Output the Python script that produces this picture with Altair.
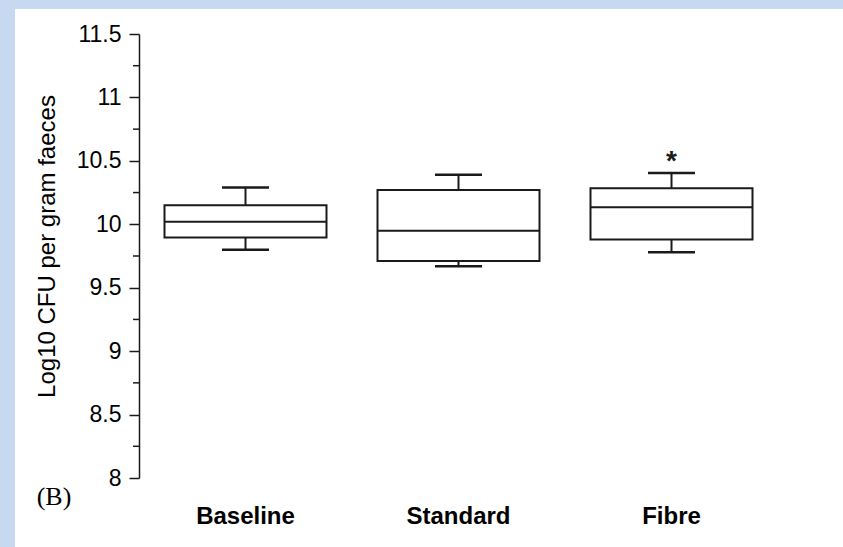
import altair as alt
import pandas as pd

groups = ["Baseline", "Standard", "Fibre"]
whisker_low = [9.80, 9.67, 9.78]
box_low = [9.895, 9.71, 9.88]
medians = [10.02, 9.95, 10.135]
box_high = [10.15, 10.27, 10.285]
whisker_high = [10.29, 10.39, 10.405]
star_groups = ["Fibre"]
star_values = [10.555]
major_ticks = [8, 8.5, 9, 9.5, 10, 10.5, 11, 11.5]
minor_ticks = [8.25, 8.75, 9.25, 9.75, 10.25, 10.75, 11.25]
y_title = "Log10 CFU per gram faeces"
panel_label = "(B)"

df = pd.DataFrame({"group": groups, "lo": whisker_low, "q1": box_low,
                   "med": medians, "q3": box_high, "hi": whisker_high})
stars = pd.DataFrame({"group": star_groups, "v": star_values})
minor = pd.DataFrame({"v": minor_ticks})

W, H = 639, 444
PL, PT = 139, 34
INK = "#1a1a1a"
FONT = "Liberation Sans"

xax = alt.Axis(title=None, domain=False, ticks=False, tickSize=0, labelAngle=0,
               labelFont=FONT, labelFontWeight="bold", labelFontSize=24,
               labelColor="black", labelPadding=26, zindex=1)
xs = alt.X("group:N", sort=groups,
           scale=alt.Scale(domain=groups, paddingInner=0, paddingOuter=0), axis=xax)

yax = alt.Axis(values=major_ticks, tickSize=10, tickColor=INK, tickWidth=1.5,
               domainColor=INK, domainWidth=1.5, grid=False,
               labelExpr="format(datum.value, '~g')", labelFont=FONT,
               labelFontSize=23, labelColor="black", labelPadding=8,
               title=y_title, titleFont=FONT, titleFontSize=24,
               titleFontWeight="normal", titleColor="black", titleAngle=-90,
               titleX=54 - PL, titleY=246 - PT, titleAlign="center",
               titleBaseline="alphabetic", zindex=1)
yscale = alt.Scale(domain=[8, 11.5], nice=False, zero=False)


def Y(field):
    return alt.Y(field, type="quantitative", scale=yscale, axis=yax)


bg = alt.Chart(alt.Data(values=[{}])).mark_rect(color="white").encode(
    x=alt.value(15 - PL), x2=alt.value(843 - PL),
    y=alt.value(9 - PT), y2=alt.value(547 - PT))

minor_ticks_layer = alt.Chart(minor).mark_rule(color=INK, strokeWidth=1.5).encode(
    y=Y("v"), x=alt.value(-6), x2=alt.value(0))

base = alt.Chart(df)
whisk_lo = base.mark_rule(color=INK, strokeWidth=2).encode(x=xs, y=Y("lo"), y2="q1")
whisk_hi = base.mark_rule(color=INK, strokeWidth=2).encode(x=xs, y=Y("q3"), y2="hi")
box = base.mark_bar(size=162, fill="white", stroke=INK, strokeWidth=2).encode(
    x=xs, y=Y("q1"), y2="q3")
med = base.mark_tick(size=162, thickness=2, color=INK, opacity=1).encode(x=xs, y=Y("med"))
cap_lo = base.mark_tick(size=47, thickness=2.5, color=INK, opacity=1).encode(x=xs, y=Y("lo"))
cap_hi = base.mark_tick(size=47, thickness=2.5, color=INK, opacity=1).encode(x=xs, y=Y("hi"))

star = alt.Chart(stars).mark_text(text="*", font=FONT, fontWeight="bold", fontSize=28,
                                  baseline="alphabetic", dy=16, color=INK).encode(
    x=xs, y=Y("v"))

label = alt.Chart(alt.Data(values=[{}])).mark_text(
    text=panel_label, font="Liberation Serif", fontSize=26, align="center",
    baseline="middle", color="black").encode(
    x=alt.value(54 - PL), y=alt.value(497 - PT))

chart = alt.layer(bg, minor_ticks_layer, whisk_lo, whisk_hi, box, med, cap_lo, cap_hi,
                  star, label).properties(
    width=W, height=H,
    autosize=alt.AutoSizeParams(type="none"),
    padding={"left": PL, "top": PT, "right": 843 - PL - W, "bottom": 547 - PT - H},
    background="#c6d9f0",
).configure_view(strokeOpacity=0)

chart.save("out.html", embed_options={"renderer": "svg", "actions": False})
